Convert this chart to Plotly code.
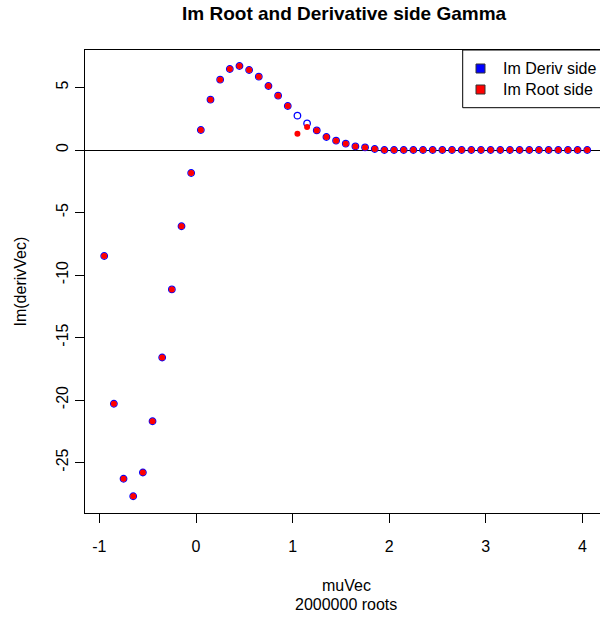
import plotly.graph_objects as go

# ---- data ----
mu_vec = [-0.95, -0.85, -0.75, -0.65, -0.55, -0.45, -0.35, -0.25, -0.15, -0.05,
          0.05, 0.15, 0.25, 0.35, 0.45, 0.55, 0.65, 0.75, 0.85, 0.95,
          1.05, 1.15, 1.25, 1.35, 1.45, 1.55, 1.65, 1.75, 1.85, 1.95,
          2.05, 2.15, 2.25, 2.35, 2.45, 2.55, 2.65, 2.75, 2.85, 2.95,
          3.05, 3.15, 3.25, 3.35, 3.45, 3.55, 3.65, 3.75, 3.85, 3.95, 4.05]

im_deriv = [-8.48, -20.3, -26.3, -27.7, -25.8, -21.7, -16.6, -11.15, -6.1, -1.84,
            1.6, 4.03, 5.63, 6.48, 6.72, 6.4, 5.87, 5.12, 4.35, 3.52,
            2.75, 2.13, 1.57, 1.04, 0.75, 0.51, 0.29, 0.21, 0.08, 0.0,
            0.0, 0.0, 0.0, 0.0, 0.0, 0.0, 0.0, 0.0, 0.0, 0.0,
            0.0, 0.0, 0.0, 0.0, 0.0, 0.0, 0.0, 0.0, 0.0, 0.0, 0.0]

im_root = [-8.48, -20.3, -26.3, -27.7, -25.8, -21.7, -16.6, -11.15, -6.1, -1.84,
           1.6, 4.03, 5.63, 6.48, 6.72, 6.4, 5.87, 5.12, 4.35, 3.52,
           1.31, 1.84, 1.57, 1.04, 0.75, 0.51, 0.29, 0.21, 0.08, 0.0,
           0.0, 0.0, 0.0, 0.0, 0.0, 0.0, 0.0, 0.0, 0.0, 0.0,
           0.0, 0.0, 0.0, 0.0, 0.0, 0.0, 0.0, 0.0, 0.0, 0.0, 0.0]

x_ticks = [-1, 0, 1, 2, 3, 4]
y_ticks = [5, 0, -5, -10, -15, -20, -25]

title_text = "Im Root and Derivative side Gamma"
x_label = "muVec"
x_sub = "2000000 roots"
y_label = "Im(derivVec)"
legend_labels = ["Im Deriv side", "Im Root side"]
legend_colors = ["#0000FF", "#FF0000"]

# ---- layout geometry (pixels) ----
W, H = 600, 617
L, R, T, B = 85, 600, 50, 513
FONT = "Liberation Sans, Arial, sans-serif"


def px(xp):
    return (xp - L) / (R - L)


def py(yp):
    return (B - yp) / (B - T)


fig = go.Figure()
fig.add_trace(go.Scatter(
    x=mu_vec, y=im_deriv, mode="markers", showlegend=False,
    marker=dict(symbol="circle-open", size=6.5, color="#0000FF",
                line=dict(width=1.3, color="#0000FF")),
))
fig.add_trace(go.Scatter(
    x=mu_vec, y=im_root, mode="markers", showlegend=False,
    marker=dict(symbol="circle", size=6, color="#FF0000", line=dict(width=0)),
))

shapes = [
    dict(type="rect", xref="paper", yref="paper",
         x0=px(462.7), x1=1.05, y0=py(107.7), y1=py(50),
         line=dict(color="black", width=1), fillcolor="white", layer="above"),
]
annotations = []
for i, (lab, col) in enumerate(zip(legend_labels, legend_colors)):
    cy = 68.5 + 21 * i
    shapes.append(dict(type="rect", xref="paper", yref="paper",
                       x0=px(476), x1=px(485), y0=py(cy + 4.5), y1=py(cy - 4.5),
                       line=dict(color="#333333", width=1), fillcolor=col,
                       layer="above"))
    annotations.append(dict(text=lab, xref="paper", yref="paper",
                            x=px(501), y=py(cy), xanchor="left", yanchor="middle",
                            showarrow=False, font=dict(size=16, color="black", family=FONT)))

annotations += [
    dict(text="<b>" + title_text + "</b>", xref="paper", yref="paper",
         x=px(344), y=py(14), xanchor="center", yanchor="middle",
         showarrow=False, font=dict(size=19, color="black", family=FONT)),
    dict(text=x_label, xref="paper", yref="paper",
         x=px(346), y=py(585), xanchor="center", yanchor="middle",
         showarrow=False, font=dict(size=16, color="black", family=FONT)),
    dict(text=x_sub, xref="paper", yref="paper",
         x=px(346), y=py(604), xanchor="center", yanchor="middle",
         showarrow=False, font=dict(size=16, color="black", family=FONT)),
    dict(text=y_label, xref="paper", yref="paper",
         x=px(20), y=py(281.5), xanchor="center", yanchor="middle", textangle=-90,
         showarrow=False, font=dict(size=16, color="black", family=FONT)),
]

fig.update_layout(
    width=W, height=H,
    margin=dict(l=L, r=W - R, t=T, b=H - B, autoexpand=False),
    paper_bgcolor="white", plot_bgcolor="white",
    font=dict(family=FONT, size=16, color="black"),
    shapes=shapes, annotations=annotations,
    showlegend=False,
)
fig.update_xaxes(
    range=[-1.149, 4.182], tickvals=x_ticks, ticktext=[str(v) for v in x_ticks],
    ticks="outside", ticklen=9, tickwidth=1, tickcolor="black",
    showline=True, linecolor="black", linewidth=1, mirror=True,
    showgrid=False, zeroline=False, tickfont=dict(size=16, color="black"),
    ticklabelstandoff=10,
)
fig.update_yaxes(
    range=[-29.04, 8.0], tickvals=y_ticks, ticktext=[str(v) for v in y_ticks],
    ticks="outside", ticklen=9, tickwidth=1, tickcolor="black",
    showline=True, linecolor="black", linewidth=1, mirror=False,
    showgrid=False, zeroline=True, zerolinecolor="black", zerolinewidth=1,
    tickfont=dict(size=16, color="black"),
    tickangle=-90, ticklabelstandoff=1,
)

fig.write_html(
    "out.html",
    config={"displayModeBar": False, "staticPlot": True},
    post_script="document.body.style.margin='0';document.body.style.overflow='hidden';",
)
